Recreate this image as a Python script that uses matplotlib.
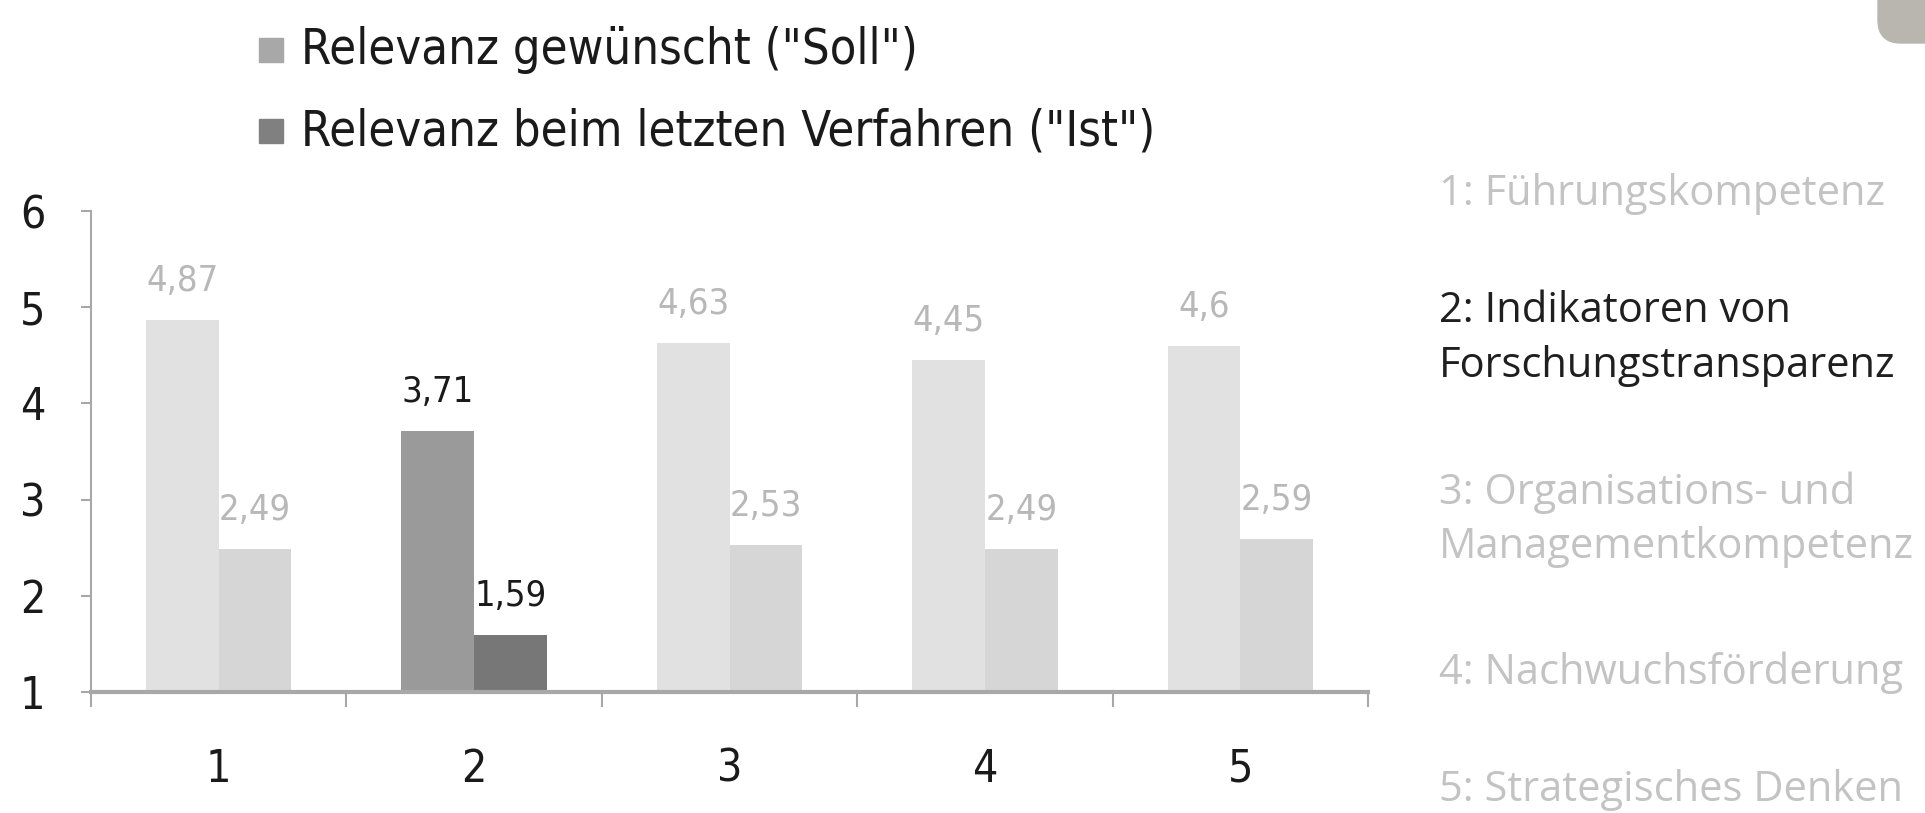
import matplotlib
matplotlib.use("Agg")
import matplotlib.pyplot as plt
from matplotlib.patches import FancyBboxPatch
import numpy as np

# data
categories = ["1", "2", "3", "4", "5"]
soll = [4.87, 3.71, 4.63, 4.45, 4.6]
ist = [2.49, 1.59, 2.53, 2.49, 2.59]
highlight = 1  # category 2 is emphasised
series_names = ['Relevanz gewünscht ("Soll")', 'Relevanz beim letzten Verfahren ("Ist")']
dimension_labels = [
    "1: Führungskompetenz",
    "2: Indikatoren von\nForschungstransparenz",
    "3: Organisations- und\nManagementkompetenz",
    "4: Nachwuchsförderung",
    "5: Strategisches Denken",
]
y_ticks = [1, 2, 3, 4, 5, 6]

NARROW = dict(family="DejaVu Sans", stretch="condensed")
WIDE = dict(family=["Open Sans", "DejaVu Sans"])

W, H = 1925, 813
fig = plt.figure(figsize=(W / 100, H / 100), dpi=100)
ax = fig.add_axes([91 / W, 1 - 692 / H, (1368 - 91) / W, (692 - 211) / H])

x = np.arange(len(categories))
bw = 0.285
soll_colors = ["#9a9a9a" if i == highlight else "#e1e1e1" for i in x]
ist_colors = ["#777777" if i == highlight else "#d6d6d6" for i in x]
base = y_ticks[0]
ax.bar(x - bw / 2, np.array(soll) - base, bw, bottom=base, color=soll_colors, zorder=2)
ax.bar(x + bw / 2, np.array(ist) - base, bw, bottom=base, color=ist_colors, zorder=2)

for i in x:
    col = "#1a1a1a" if i == highlight else "#b8b8b8"
    for xo, v in ((x[i] - bw / 2, soll[i]), (x[i] + bw / 2, ist[i])):
        ax.annotate(f"{v:g}".replace(".", ","), (xo, v), xytext=(0, 28),
                    textcoords="offset points", ha="center", va="center",
                    fontsize=26, color=col, **NARROW)

ax.set_xlim(-0.5, len(categories) - 0.5)
ax.set_ylim(y_ticks[0], y_ticks[-1])
ax.set_yticks(y_ticks)
ax.set_yticklabels([str(t) for t in y_ticks], fontsize=32, color="#1a1a1a", **NARROW)
ax.set_xticks(x)
ax.set_xticklabels(categories, fontsize=32, color="#1a1a1a", **NARROW)
ax.set_xticks(np.arange(len(categories) + 1) - 0.5, minor=True)

for s in ("top", "right"):
    ax.spines[s].set_visible(False)
ax.spines["left"].set_color("#a8a8a8")
ax.spines["left"].set_linewidth(1.5)
ax.spines["bottom"].set_color("#a8a8a8")
ax.spines["bottom"].set_linewidth(3)
ax.tick_params(axis="y", length=7, width=1.5, color="#a8a8a8", pad=26)
ax.tick_params(axis="x", which="major", length=0, pad=40)
ax.tick_params(axis="x", which="minor", length=11, width=1.5, color="#a8a8a8")

# legend drawn as text rows above the plot
leg_colors = ["#a8a8a8", "#808080"]
for row, (name, c) in enumerate(zip(series_names, leg_colors)):
    yc = 1 - (50 + row * 81) / H
    fig.patches.append(plt.Rectangle((259 / W, yc - 12 / H), 24 / W, 24 / H,
                                     transform=fig.transFigure, color=c))
    fig.text(301 / W, yc, name, fontsize=35, color="#1a1a1a",
             va="center", ha="left", **NARROW)

# category descriptions at the right
item_y = [194, 338, 520, 673, 790]
line_gap = 55
for i, (label, yc) in enumerate(zip(dimension_labels, item_y)):
    col = "#1f1f1f" if i == highlight else "#c3c3c3"
    lines = label.split("\n")
    for k, ln in enumerate(lines):
        yy = yc + (k - (len(lines) - 1) / 2) * line_gap
        fig.text(1439 / W, 1 - yy / H, ln, fontsize=30, color=col,
                 va="center", ha="left", **WIDE)

# grey tab at the top right corner
fig.patches.append(FancyBboxPatch((1878 / W, 1 - 43 / H), 80 / W, 80 / H,
                                  boxstyle="round,pad=0,rounding_size=0.012",
                                  transform=fig.transFigure, color="#b9b5af",
                                  mutation_aspect=W / H))

fig.savefig("out.png", dpi=100, facecolor="white")
